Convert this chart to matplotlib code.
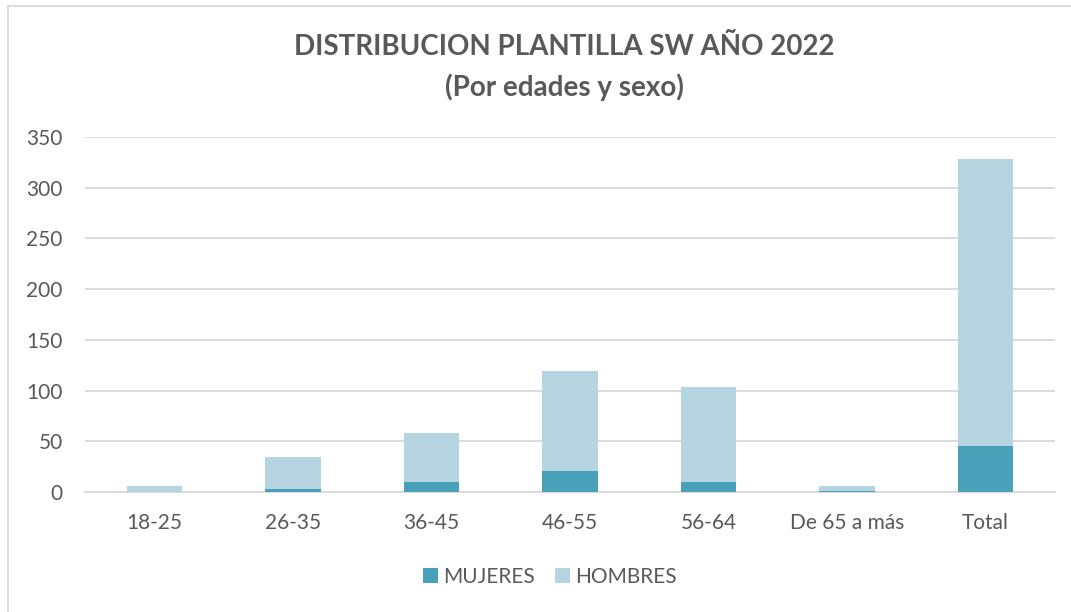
import numpy as np
import matplotlib.pyplot as plt
from matplotlib.lines import Line2D

# datos
categorias = ['18-25', '26-35', '36-45', '46-55', '56-64', 'De 65 a más', 'Total']
mujeres = [0, 3, 10, 21, 10, 1, 45]
hombres = [6, 32, 48, 98, 94, 5, 283]
yticks = [0, 50, 100, 150, 200, 250, 300, 350]

plt.rcParams['font.family'] = ['Lato', 'DejaVu Sans']
gris = '#595959'

fig = plt.figure(figsize=(10.71, 6.12), dpi=100)
ax = fig.add_axes([85 / 1071, 1 - 492 / 612, 970 / 1071, 355 / 612])

x = np.arange(len(categorias))
ax.bar(x, mujeres, width=0.4, color='#48A1B9', label='MUJERES', zorder=3)
ax.bar(x, hombres, width=0.4, bottom=mujeres, color='#B7D5E0', label='HOMBRES', zorder=3)

ax.set_xlim(-0.5, len(categorias) - 0.5)
ax.set_ylim(0, 350)
ax.set_yticks(yticks)
ax.set_xticks(x)
ax.set_xticklabels(categorias)
ax.yaxis.grid(True, color='#D9D9D9', linewidth=1.3, zorder=0)
ax.tick_params(axis='both', length=0, labelsize=15, colors=gris)
ax.tick_params(axis='x', pad=15)
ax.tick_params(axis='y', pad=16)
for s in ['top', 'right', 'left']:
    ax.spines[s].set_visible(False)
ax.spines['bottom'].set_color('#D9D9D9')
ax.spines['bottom'].set_linewidth(1.3)

fig.text(0.527, 1 - 47 / 612, 'DISTRIBUCION PLANTILLA SW AÑO 2022', ha='center', va='center',
         fontsize=20, fontweight='bold', color=gris)
fig.text(0.527, 1 - 87 / 612, '(Por edades y sexo)', ha='center', va='center',
         fontsize=20, fontweight='bold', color=gris)

fig.legend(loc='center', bbox_to_anchor=(550 / 1071, 1 - 577 / 612), ncol=2, frameon=False,
           fontsize=15, labelcolor=gris, handlelength=0.7, handleheight=0.7,
           handletextpad=0.25, columnspacing=1.0)

# borde del area del grafico (solo izquierda y arriba visibles)
fig.add_artist(Line2D([7.5 / 1071, 7.5 / 1071], [0, 1 - 6 / 612], color='#D9D9D9', lw=1.3))
fig.add_artist(Line2D([7.5 / 1071, 1], [1 - 6 / 612, 1 - 6 / 612], color='#D9D9D9', lw=1.3))

plt.savefig('out.png', dpi=100)
